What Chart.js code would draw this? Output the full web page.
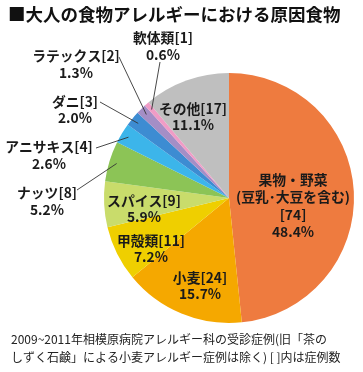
<!DOCTYPE html>
<html><head><meta charset="utf-8">
<script src="https://cdn.jsdelivr.net/npm/chart.js@4/dist/chart.umd.min.js"></script>
<style>html,body{margin:0;padding:0;background:#fff;}#wrap{width:363px;height:372px;position:relative;}</style>
</head><body><div id="wrap"><canvas id="c" width="363" height="372"></canvas></div>
<script>
const categories = ['果物・野菜(豆乳・大豆を含む)','小麦','甲殻類','スパイス','ナッツ','アニサキス','ダニ','ラテックス','軟体類','その他'];
const counts = [74, 24, 11, 9, 8, 4, 3, 2, 1, 17];
const percents = ['48.4%','15.7%','7.2%','5.9%','5.2%','2.6%','2.0%','1.3%','0.6%','11.1%'];
const labelLines = [
  ['果物・野菜','(豆乳･大豆を含む)','[74]','48.4%'],
  ['小麦[24]','15.7%'],
  ['甲殻類[11]','7.2%'],
  ['スパイス[9]','5.9%'],
  ['ナッツ[8]','5.2%'],
  ['アニサキス[4]','2.6%'],
  ['ダニ[3]','2.0%'],
  ['ラテックス[2]','1.3%'],
  ['軟体類[1]','0.6%'],
  ['その他[17]','11.1%']
];
const colors = ['#EE7B3F','#F5A800','#EFCF00','#C9DC6B','#8CC456','#3CB5EA','#3D8CD2','#A48EC6','#F09CC6','#BFBFBF'];
const titleText = '■大人の食物アレルギーにおける原因食物';
const footLines = ['2009~2011年相模原病院アレルギー科の受診症例(旧「茶の','しずく石鹸」による小麦アレルギー症例は除く) [ ]内は症例数'];

const layout = [
  {dx:64, dy:8, lh:17.5},
  {dx:-29, dy:88, lh:16},
  {dx:-78, dy:51, lh:16},
  {dx:-85, dy:11, lh:16},
  {dx:-182, dy:3, lh:17, lead:{x:-152,y:-8}},
  {dx:-180, dy:-43, lh:17, lead:{x:-133,y:-50}},
  {dx:-154, dy:-88, lh:16, lead:{x:-129,y:-96}},
  {dx:-153, dy:-134, lh:17, lead:{x:-110,y:-141}},
  {dx:-66, dy:-152, lh:17, lead:{x:-69,y:-136}},
  {dx:-36, dy:-81, lh:16}
];

const labelPlugin = {
  id:'labels',
  afterDraw(chart){
    const ctx = chart.ctx;
    const meta = chart.getDatasetMeta(0);
    const cx = meta.data[0].x, cy = meta.data[0].y, r = meta.data[0].outerRadius;
    ctx.save();
    ctx.fillStyle = '#111';
    ctx.font = 'bold 17.5px "Noto Sans CJK JP"';
    ctx.textAlign = 'left'; ctx.textBaseline = 'middle';
    ctx.fillText(titleText, 8, 14);
    ctx.font = '12px "Noto Sans CJK JP"';
    ctx.fillStyle = '#222';
    ctx.fillText(footLines[0], 11, 339);
    ctx.fillText(footLines[1], 11, 357);
    ctx.font = 'bold 13.8px "Noto Sans CJK JP"';
    ctx.textAlign = 'center';
    meta.data.forEach((arc, i) => {
      const L = layout[i];
      const lines = labelLines[i];
      const bx = cx + L.dx, by = cy + L.dy;
      const top = by - (lines.length - 1) * L.lh / 2;
      ctx.fillStyle = '#1a1a1a';
      lines.forEach((t, k) => ctx.fillText(t, bx, top + k * L.lh));
      if (L.lead) {
        const mid = (arc.startAngle + arc.endAngle) / 2;
        const ex = cx + Math.cos(mid) * r * 0.94, ey = cy + Math.sin(mid) * r * 0.94;
        ctx.strokeStyle = '#333'; ctx.lineWidth = 0.9;
        ctx.beginPath(); ctx.moveTo(cx + L.lead.x, cy + L.lead.y); ctx.lineTo(ex, ey); ctx.stroke();
      }
    });
    ctx.restore();
  }
};

new Chart(document.getElementById('c'), {
  type:'pie',
  data:{ labels:categories, datasets:[{ data:counts, backgroundColor:colors, borderWidth:0 }]},
  options:{
    responsive:false, animation:false,
    layout:{ padding:{ left:104, right:9, top:73, bottom:49 } },
    plugins:{ legend:{display:false}, tooltip:{enabled:false} }
  },
  plugins:[labelPlugin]
});
</script></body></html>
